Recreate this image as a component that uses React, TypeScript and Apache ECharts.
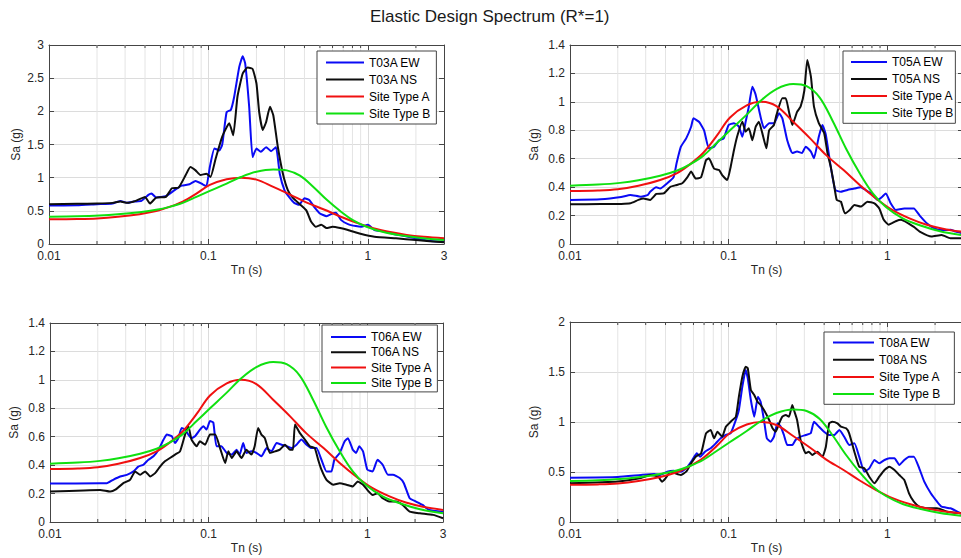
import React, { useEffect, useRef } from "react";
import * as echarts from "echarts";

// Period axis (s): labelled ticks and the minor decade lines between them
const periodTicks = [0.01, 0.1, 1, 3];
const minorPeriods = [0.02, 0.03, 0.04, 0.05, 0.06, 0.07, 0.08, 0.09, 0.2, 0.3, 0.4, 0.5, 0.6, 0.7, 0.8, 0.9, 2];

// Spectral acceleration axis ranges per panel
const saMax = [3, 1.4, 1.4, 2];
const saStep = [0.5, 0.2, 0.2, 0.5];

// Record names per panel
const stations = ["T03A", "T05A", "T06A", "T08A"];

// Elastic design spectra, [Tn (s), Sa (g)]
const siteTypeA = [
  [0.01, 0.372], [0.015, 0.376], [0.02, 0.385], [0.027, 0.41], [0.037, 0.45], [0.047, 0.497],
  [0.057, 0.56], [0.069, 0.64], [0.084, 0.76], [0.102, 0.89], [0.13, 0.975], [0.16, 1.0],
  [0.2, 0.97], [0.255, 0.86], [0.325, 0.745], [0.41, 0.627], [0.53, 0.52], [0.67, 0.415],
  [0.85, 0.32], [1.08, 0.238], [1.38, 0.18], [1.75, 0.137], [2.24, 0.108], [3, 0.085],
];
const siteTypeB = [
  [0.01, 0.41], [0.015, 0.418], [0.0207, 0.43], [0.027, 0.448], [0.037, 0.48], [0.047, 0.515],
  [0.057, 0.56], [0.069, 0.62], [0.084, 0.71], [0.102, 0.8], [0.13, 0.91], [0.16, 1.01],
  [0.2, 1.09], [0.255, 1.125], [0.31, 1.11], [0.375, 1.03], [0.455, 0.86], [0.55, 0.67],
  [0.67, 0.497], [0.81, 0.356], [0.98, 0.26], [1.25, 0.18], [1.6, 0.132], [2.15, 0.09], [3, 0.061],
];

// Recorded response spectra, [Tn (s), Sa (g)]
const t03aEW = [
  [0.01, 0.58], [0.015, 0.585], [0.02, 0.6], [0.025, 0.61], [0.028, 0.65], [0.031, 0.62], [0.034, 0.64],
  [0.038, 0.65], [0.042, 0.74], [0.044, 0.76], [0.047, 0.7], [0.054, 0.72], [0.062, 0.82], [0.068, 0.88],
  [0.076, 0.9], [0.083, 0.95], [0.092, 0.9], [0.097, 0.87], [0.102, 1.16], [0.109, 1.44], [0.117, 1.41],
  [0.122, 1.5], [0.13, 1.99], [0.138, 2.02], [0.145, 2.22], [0.156, 2.67], [0.164, 2.83], [0.17, 2.72],
  [0.18, 2.07], [0.189, 1.31], [0.2, 1.44], [0.213, 1.39], [0.23, 1.46], [0.247, 1.4], [0.265, 1.46],
  [0.28, 1.06], [0.3, 0.81], [0.32, 0.71], [0.345, 0.62], [0.37, 0.59], [0.4, 0.69], [0.43, 0.66],
  [0.46, 0.56], [0.5, 0.46], [0.55, 0.42], [0.6, 0.46], [0.63, 0.47], [0.68, 0.36], [0.75, 0.3],
  [0.84, 0.27], [0.91, 0.26], [1.0, 0.29], [1.1, 0.21], [1.27, 0.19], [1.45, 0.15], [1.7, 0.12],
  [2.0, 0.085], [2.4, 0.05], [3, 0.035],
];
const t03aNS = [
  [0.01, 0.6], [0.015, 0.605], [0.02, 0.61], [0.025, 0.62], [0.028, 0.64], [0.031, 0.62], [0.035, 0.65],
  [0.04, 0.71], [0.043, 0.61], [0.047, 0.7], [0.054, 0.71], [0.059, 0.84], [0.065, 0.85], [0.072, 1.04],
  [0.077, 1.16], [0.083, 1.11], [0.089, 1.04], [0.097, 1.06], [0.103, 1.01], [0.111, 1.29], [0.122, 1.62],
  [0.135, 1.82], [0.143, 1.64], [0.152, 2.22], [0.164, 2.57], [0.176, 2.66], [0.189, 2.64], [0.2, 2.42],
  [0.208, 1.99], [0.219, 1.72], [0.23, 1.84], [0.243, 2.07], [0.255, 1.94], [0.272, 1.47], [0.293, 1.06],
  [0.315, 0.81], [0.34, 0.69], [0.37, 0.61], [0.41, 0.51], [0.44, 0.34], [0.47, 0.26], [0.51, 0.29],
  [0.55, 0.24], [0.6, 0.26], [0.67, 0.24], [0.75, 0.21], [0.91, 0.15], [1.1, 0.11], [1.5, 0.085],
  [2.0, 0.06], [3, 0.025],
];
const t05aEW = [
  [0.01, 0.31], [0.0156, 0.314], [0.021, 0.33], [0.024, 0.345], [0.028, 0.333], [0.031, 0.345],
  [0.032, 0.368], [0.035, 0.4], [0.037, 0.39], [0.041, 0.427], [0.045, 0.47], [0.047, 0.57], [0.05, 0.685],
  [0.054, 0.743], [0.058, 0.825], [0.06, 0.884], [0.065, 0.86], [0.07, 0.8], [0.075, 0.673], [0.081, 0.685],
  [0.087, 0.73], [0.093, 0.743], [0.1, 0.837], [0.108, 0.85], [0.116, 0.825], [0.122, 0.755], [0.128, 0.86],
  [0.134, 0.966], [0.141, 1.107], [0.148, 1.05], [0.158, 0.907], [0.167, 0.814], [0.18, 0.85], [0.193, 0.85],
  [0.208, 0.92], [0.218, 0.884], [0.234, 0.73], [0.252, 0.64], [0.27, 0.65], [0.29, 0.64], [0.306, 0.685],
  [0.33, 0.65], [0.345, 0.603], [0.37, 0.755], [0.39, 0.837], [0.41, 0.767], [0.44, 0.544], [0.47, 0.38],
  [0.51, 0.368], [0.56, 0.38], [0.62, 0.39], [0.68, 0.4], [0.73, 0.38], [0.79, 0.356], [0.87, 0.31],
  [0.93, 0.333], [0.98, 0.356], [1.05, 0.286], [1.13, 0.24], [1.28, 0.25], [1.47, 0.25], [1.6, 0.2],
  [1.78, 0.145], [1.98, 0.11], [2.2, 0.098], [2.5, 0.1], [2.7, 0.087], [3, 0.075],
];
const t05aNS = [
  [0.01, 0.28], [0.0156, 0.281], [0.021, 0.282], [0.024, 0.286], [0.027, 0.31], [0.029, 0.32], [0.032, 0.31],
  [0.035, 0.352], [0.039, 0.356], [0.043, 0.403], [0.047, 0.415], [0.051, 0.427], [0.055, 0.47], [0.058, 0.51],
  [0.062, 0.46], [0.067, 0.47], [0.072, 0.59], [0.075, 0.603], [0.081, 0.53], [0.087, 0.52], [0.091, 0.485],
  [0.098, 0.45], [0.103, 0.544], [0.108, 0.66], [0.113, 0.755], [0.122, 0.86], [0.128, 0.79], [0.134, 0.814],
  [0.141, 0.73], [0.148, 0.825], [0.155, 0.86], [0.163, 0.78], [0.173, 0.673], [0.18, 0.8], [0.193, 0.837],
  [0.2, 0.907], [0.218, 1.025], [0.229, 1.025], [0.24, 0.93], [0.252, 0.837], [0.27, 0.93], [0.284, 0.966],
  [0.3, 1.08], [0.313, 1.295], [0.33, 1.177], [0.345, 0.966], [0.37, 0.85], [0.4, 0.78], [0.42, 0.638],
  [0.44, 0.544], [0.46, 0.427], [0.48, 0.31], [0.51, 0.298], [0.54, 0.216], [0.58, 0.24], [0.62, 0.274],
  [0.68, 0.263], [0.75, 0.298], [0.83, 0.286], [0.89, 0.25], [0.95, 0.17], [1.02, 0.136], [1.13, 0.16],
  [1.22, 0.17], [1.47, 0.12], [1.6, 0.087], [1.9, 0.052], [2.2, 0.063], [2.5, 0.04], [3, 0.04],
];
const t06aEW = [
  [0.01, 0.27], [0.0207, 0.273], [0.0228, 0.273], [0.025, 0.297], [0.0277, 0.32], [0.0305, 0.332],
  [0.0336, 0.356], [0.036, 0.39], [0.0388, 0.403], [0.0417, 0.438], [0.0449, 0.462], [0.0483, 0.509],
  [0.052, 0.58], [0.0545, 0.615], [0.0586, 0.603], [0.0614, 0.556], [0.0644, 0.59], [0.0676, 0.662],
  [0.071, 0.65], [0.0745, 0.615], [0.078, 0.59], [0.082, 0.603], [0.0882, 0.65], [0.0926, 0.674],
  [0.097, 0.65], [0.102, 0.71], [0.107, 0.7], [0.112, 0.533], [0.12, 0.533], [0.13, 0.486], [0.14, 0.474],
  [0.15, 0.509], [0.157, 0.474], [0.165, 0.556], [0.173, 0.486], [0.186, 0.497], [0.2, 0.486],
  [0.215, 0.462], [0.232, 0.52], [0.249, 0.497], [0.268, 0.556], [0.288, 0.544], [0.31, 0.533],
  [0.333, 0.52], [0.358, 0.544], [0.384, 0.58], [0.414, 0.544], [0.445, 0.52], [0.478, 0.52],
  [0.514, 0.438], [0.553, 0.356], [0.594, 0.356], [0.62, 0.438], [0.67, 0.486], [0.72, 0.568],
  [0.755, 0.59], [0.81, 0.509], [0.85, 0.486], [0.89, 0.533], [0.94, 0.497], [1.0, 0.368], [1.08, 0.356],
  [1.16, 0.438], [1.25, 0.403], [1.35, 0.332], [1.45, 0.332], [1.6, 0.309], [1.7, 0.273], [1.85, 0.167],
  [2.03, 0.144], [2.23, 0.12], [2.45, 0.085], [3, 0.073],
];
const t06aNS = [
  [0.01, 0.215], [0.0207, 0.226], [0.024, 0.214], [0.026, 0.23], [0.029, 0.273], [0.032, 0.297],
  [0.0344, 0.356], [0.037, 0.332], [0.0398, 0.356], [0.0428, 0.32], [0.046, 0.344], [0.0494, 0.39],
  [0.053, 0.427], [0.057, 0.45], [0.0614, 0.474], [0.066, 0.497], [0.071, 0.615], [0.0745, 0.674],
  [0.078, 0.58], [0.084, 0.533], [0.088, 0.568], [0.095, 0.544], [0.102, 0.615], [0.11, 0.615],
  [0.118, 0.52], [0.127, 0.415], [0.133, 0.497], [0.14, 0.45], [0.15, 0.497], [0.161, 0.45],
  [0.173, 0.509], [0.186, 0.474], [0.195, 0.533], [0.205, 0.662], [0.215, 0.615], [0.226, 0.59],
  [0.243, 0.486], [0.262, 0.497], [0.281, 0.509], [0.303, 0.544], [0.325, 0.509], [0.34, 0.509],
  [0.35, 0.686], [0.375, 0.627], [0.404, 0.58], [0.434, 0.533], [0.466, 0.52], [0.49, 0.438],
  [0.514, 0.368], [0.553, 0.297], [0.61, 0.262], [0.67, 0.273], [0.74, 0.262], [0.81, 0.25],
  [0.87, 0.285], [0.94, 0.262], [1.0, 0.226], [1.08, 0.19], [1.16, 0.203], [1.25, 0.167], [1.38, 0.144],
  [1.52, 0.144], [1.67, 0.12], [1.85, 0.073], [2.15, 0.061], [2.6, 0.05], [3, 0.026],
];
const t08aEW = [
  [0.01, 0.443], [0.02, 0.45], [0.028, 0.47], [0.034, 0.48], [0.037, 0.47], [0.041, 0.503], [0.045, 0.513],
  [0.0498, 0.503], [0.055, 0.553], [0.059, 0.62], [0.063, 0.687], [0.066, 0.653], [0.071, 0.703],
  [0.077, 0.737], [0.083, 0.787], [0.089, 0.837], [0.096, 0.87], [0.103, 0.887], [0.111, 1.02],
  [0.116, 1.12], [0.122, 1.353], [0.128, 1.52], [0.132, 1.437], [0.138, 1.22], [0.145, 1.053],
  [0.153, 1.253], [0.159, 1.203], [0.167, 1.02], [0.174, 0.837], [0.184, 0.803], [0.193, 0.853],
  [0.203, 0.987], [0.213, 0.953], [0.223, 0.87], [0.234, 0.77], [0.252, 0.77], [0.264, 0.82],
  [0.284, 0.853], [0.306, 0.87], [0.329, 0.887], [0.345, 1.003], [0.371, 0.953], [0.399, 0.903],
  [0.43, 0.87], [0.463, 0.87], [0.498, 0.92], [0.535, 0.853], [0.575, 0.77], [0.62, 0.787],
  [0.665, 0.653], [0.716, 0.503], [0.77, 0.537], [0.83, 0.62], [0.89, 0.587], [0.96, 0.62],
  [1.03, 0.637], [1.11, 0.637], [1.19, 0.57], [1.28, 0.62], [1.37, 0.653], [1.47, 0.653], [1.59, 0.537],
  [1.71, 0.403], [1.88, 0.287], [2.06, 0.203], [2.2, 0.153], [2.5, 0.137], [2.9, 0.087], [3, 0.08],
];
const t08aNS = [
  [0.01, 0.387], [0.02, 0.405], [0.028, 0.44], [0.032, 0.47], [0.036, 0.453], [0.038, 0.403], [0.04, 0.437],
  [0.043, 0.503], [0.046, 0.487], [0.0498, 0.47], [0.054, 0.503], [0.058, 0.587], [0.062, 0.653],
  [0.067, 0.687], [0.072, 0.887], [0.077, 0.92], [0.081, 0.837], [0.085, 0.903], [0.091, 0.853],
  [0.096, 0.953], [0.103, 1.003], [0.111, 1.053], [0.116, 1.253], [0.122, 1.453], [0.128, 1.553],
  [0.132, 1.537], [0.138, 1.32], [0.145, 1.27], [0.152, 1.203], [0.159, 1.17], [0.167, 1.12], [0.18, 1.02],
  [0.189, 0.937], [0.198, 0.903], [0.208, 0.987], [0.218, 1.053], [0.229, 1.07], [0.24, 1.053],
  [0.252, 1.17], [0.26, 1.103], [0.27, 1.02], [0.284, 0.82], [0.306, 0.687], [0.32, 0.703], [0.337, 0.67],
  [0.362, 0.703], [0.39, 0.653], [0.41, 0.753], [0.43, 0.987], [0.45, 1.003], [0.485, 0.987], [0.51, 0.953],
  [0.55, 0.937], [0.575, 0.887], [0.62, 0.703], [0.665, 0.553], [0.716, 0.537], [0.77, 0.453], [0.83, 0.387],
  [0.89, 0.453], [0.96, 0.52], [1.03, 0.553], [1.11, 0.52], [1.19, 0.47], [1.28, 0.42], [1.37, 0.287],
  [1.47, 0.203], [1.59, 0.153], [1.8, 0.137], [2.06, 0.137], [2.4, 0.103], [2.9, 0.087], [3, 0.085],
];

const ewRecords = [t03aEW, t05aEW, t06aEW, t08aEW];
const nsRecords = [t03aNS, t05aNS, t06aNS, t08aNS];

// Panel geometry (px) and legend boxes
const gridBoxes = [
  { left: 49, top: 45, width: 395, height: 199 },
  { left: 570, top: 45, width: 393, height: 199 },
  { left: 50, top: 323, width: 393, height: 199 },
  { left: 570, top: 322, width: 393, height: 200 },
];
const legendBoxes = [
  { left: 317, top: 51, padding: [5.5, 6, 4.5, 8], itemWidth: 38, itemHeight: 12, itemGap: 5 },
  { left: 843, top: 51, padding: [5, 2, 4.3, 7], itemWidth: 36, itemHeight: 12, itemGap: 5 },
  { left: 322, top: 325, padding: [6, 5, 3, 8], itemWidth: 35, itemHeight: 12, itemGap: 3.3 },
  { left: 824, top: 332, padding: [4.5, 14, 4.2, 8], itemWidth: 41, itemHeight: 12, itemGap: 5.2 },
];
const yNameGaps = [27, 30, 30, 30];
const showEndLabel = [true, false, true, false];

const FONT = '"Liberation Sans", Arial, Helvetica, sans-serif';
const INK = "#262626";
const FRAME = "#454545";
const GRID = "#dcdcdc";
const MINOR_GRID = "#e4e4e4";
const COLORS = { ew: "#0a0af5", ns: "#0d0d0d", a: "#f01010", b: "#10e010" };

function periodLabel(v: number): string {
  const hit = periodTicks.find((t) => Math.abs(Math.log10(v / t)) < 1e-6);
  return hit === undefined ? "" : String(hit);
}

function buildOption() {
  const grid = gridBoxes.map((g) => ({ ...g, show: false, containLabel: false, outerBoundsMode: "none" }));

  const xAxis: any[] = [];
  const yAxis: any[] = [];
  gridBoxes.forEach((_, i) => {
    xAxis.push({
      type: "log",
      logBase: 10,
      gridIndex: i,
      min: 0.01,
      max: 3,
      name: "Tn (s)",
      nameLocation: "middle",
      nameGap: 20,
      nameTextStyle: { fontSize: 12, color: INK, fontFamily: FONT },
      axisLine: { show: true, lineStyle: { color: FRAME, width: 1 } },
      axisTick: { show: true, inside: true, length: 5, lineStyle: { color: FRAME } },
      axisLabel: {
        show: true,
        margin: 6,
        fontSize: 12,
        color: INK,
        fontFamily: FONT,
        showMinLabel: true,
        showMaxLabel: showEndLabel[i],
        hideOverlap: false,
        formatter: (v: number) => periodLabel(v),
      },
      splitLine: { show: true, lineStyle: { color: GRID, width: 1 } },
    });
    yAxis.push({
      type: "value",
      gridIndex: i,
      min: 0,
      max: saMax[i],
      interval: saStep[i],
      name: "Sa (g)",
      nameLocation: "middle",
      nameGap: yNameGaps[i],
      nameTextStyle: { fontSize: 12, color: INK, fontFamily: FONT },
      axisLine: { show: true, lineStyle: { color: FRAME, width: 1 } },
      axisTick: { show: true, inside: true, length: 5, lineStyle: { color: FRAME } },
      axisLabel: { show: true, margin: 5, fontSize: 12, color: INK, fontFamily: FONT, showMinLabel: true, showMaxLabel: true },
      splitLine: { show: true, lineStyle: { color: GRID, width: 1 } },
    });
  });
  // frame: top and right edges with inward ticks
  gridBoxes.forEach((_, i) => {
    xAxis.push({
      type: "log",
      logBase: 10,
      gridIndex: i,
      min: 0.01,
      max: 3,
      position: "top",
      axisLine: { show: true, onZero: false, lineStyle: { color: FRAME, width: 1 } },
      axisTick: { show: true, inside: true, length: 5, lineStyle: { color: FRAME } },
      axisLabel: { show: false },
      splitLine: { show: false },
    });
    yAxis.push({
      type: "value",
      gridIndex: i,
      min: 0,
      max: saMax[i],
      interval: saStep[i],
      position: "right",
      axisLine: { show: true, onZero: false, lineStyle: { color: FRAME, width: 1 } },
      axisTick: { show: true, inside: true, length: 5, lineStyle: { color: FRAME } },
      axisLabel: { show: false },
      splitLine: { show: false },
    });
  });

  const series: any[] = [];
  gridBoxes.forEach((_, i) => {
    // minor decade grid lines with short inward ticks on the top and bottom edges
    series.push({
      type: "custom",
      xAxisIndex: i,
      yAxisIndex: i,
      silent: true,
      z: 1,
      encode: { x: 0, y: 1 },
      data: minorPeriods.map((t) => [t, 0]),
      renderItem: (params: any, api: any) => {
        const cs = params.coordSys;
        const x = api.coord([api.value(0), 0])[0];
        const bottom = cs.y + cs.height;
        return {
          type: "group",
          children: [
            { type: "line", shape: { x1: x, y1: cs.y, x2: x, y2: bottom }, style: { stroke: MINOR_GRID, lineWidth: 1 } },
            { type: "line", shape: { x1: x, y1: bottom, x2: x, y2: bottom - 3 }, style: { stroke: FRAME, lineWidth: 1 } },
            { type: "line", shape: { x1: x, y1: cs.y, x2: x, y2: cs.y + 3 }, style: { stroke: FRAME, lineWidth: 1 } },
          ],
        };
      },
    });
    const lines: [string, number[][], string, number][] = [
      [`${stations[i]} EW`, ewRecords[i], COLORS.ew, 0.15],
      [`${stations[i]} NS`, nsRecords[i], COLORS.ns, 0.15],
      ["Site Type A", siteTypeA, COLORS.a, 0.35],
      ["Site Type B", siteTypeB, COLORS.b, 0.35],
    ];
    lines.forEach(([name, data, color, smooth]) => {
      series.push({
        type: "line",
        name,
        xAxisIndex: i,
        yAxisIndex: i,
        data,
        symbol: "none",
        showSymbol: false,
        smooth,
        clip: true,
        z: 3,
        color,
        itemStyle: { color },
        lineStyle: { color, width: 2, join: "round" },
      });
    });
  });

  const legend = gridBoxes.map((_, i) => ({
    ...legendBoxes[i],
    orient: "vertical",
    selectedMode: false,
    backgroundColor: "#ffffff",
    borderColor: FRAME,
    borderWidth: 1,
    borderRadius: 0,
    z: 10,
    itemStyle: { opacity: 0 },
    lineStyle: { width: 2 },
    textStyle: { fontSize: 12, color: "#000000", fontFamily: FONT },
    data: [`${stations[i]} EW`, `${stations[i]} NS`, "Site Type A", "Site Type B"],
  }));

  return {
    animation: false,
    backgroundColor: "#ffffff",
    title: {
      text: "Elastic Design Spectrum (R*=1)",
      left: 370,
      top: 8,
      padding: 0,
      textStyle: { fontSize: 17, fontWeight: "normal", color: "#1a1a1a", fontFamily: FONT },
    },
    grid,
    xAxis,
    yAxis,
    legend,
    series,
  };
}

export default function App() {
  const ref = useRef<HTMLDivElement>(null);
  useEffect(() => {
    if (!ref.current) return;
    const chart = echarts.init(ref.current, undefined, { renderer: "svg" });
    chart.setOption(buildOption() as any);
    return () => chart.dispose();
  }, []);
  return (
    <div
      ref={ref}
      style={{ position: "fixed", left: 0, top: 0, width: 961, height: 558, background: "#ffffff" }}
    />
  );
}
